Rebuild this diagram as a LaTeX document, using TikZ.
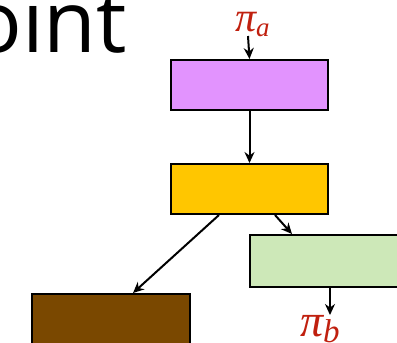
\documentclass[tikz,border=0pt]{standalone}
\usepackage{fontspec}
\setsansfont{Open Sans}
\newfontfamily\pifont{Liberation Serif}
\usetikzlibrary{arrows.meta,calc}
\definecolor{pinkbox}{HTML}{E293FE}
\definecolor{orangebox}{HTML}{FFC600}
\definecolor{greenbox}{HTML}{CDE8B8}
\definecolor{brownbox}{HTML}{7A4800}
\definecolor{pired}{HTML}{C0200F}
\tikzset{
  box/.style={draw=black, line width=2pt, rectangle, inner sep=0pt, anchor=north west},
  arr/.style={-{Stealth[length=11pt,width=10pt]}, line width=2pt},
  pilabel/.style={text=pired, inner sep=0pt, font=\pifont\itshape},
}
\begin{document}
\begin{tikzpicture}[x=1pt,y=-1pt]
\useasboundingbox (0,0) rectangle (397,343);
\clip (0,0) rectangle (397,343);
\node[anchor=base west, inner sep=0pt, font=\sffamily\fontsize{86}{86}\selectfont] (title) at (-30,52) {oint};
\node[box, fill=pinkbox, minimum width=157pt, minimum height=50pt] (p) at (170,59) {};
\node[box, fill=orangebox, minimum width=157pt, minimum height=50pt] (o) at (170,163) {};
\node[box, fill=greenbox, minimum width=170pt, minimum height=52pt] (g) at (249,234) {};
\node[box, fill=brownbox, minimum width=158pt, minimum height=60pt] (b) at (31,293) {};
\node[pilabel, anchor=base west] (pa) at (235,31) {\fontsize{42}{42}\selectfont π\raisebox{-5pt}{\fontsize{27}{27}\selectfont a}};
\node[pilabel, anchor=base west] (pb) at (300,336) {\fontsize{46}{46}\selectfont π\raisebox{-6pt}{\fontsize{33}{33}\selectfont b}};
\coordinate (paend) at (248,36);
\draw[arr] (paend) -- (p.north);
\draw[arr] (p.south) -- (o.north);
\draw[arr] ([xshift=105pt]o.south west) -- ([xshift=43pt]g.north west);
\draw[arr] ([xshift=49pt]o.south west) -- ([xshift=102pt]b.north west);
\draw[arr] ([xshift=81pt]g.south west) -- ([xshift=81pt,yshift=-27pt]g.south west);
\end{tikzpicture}
\end{document}
